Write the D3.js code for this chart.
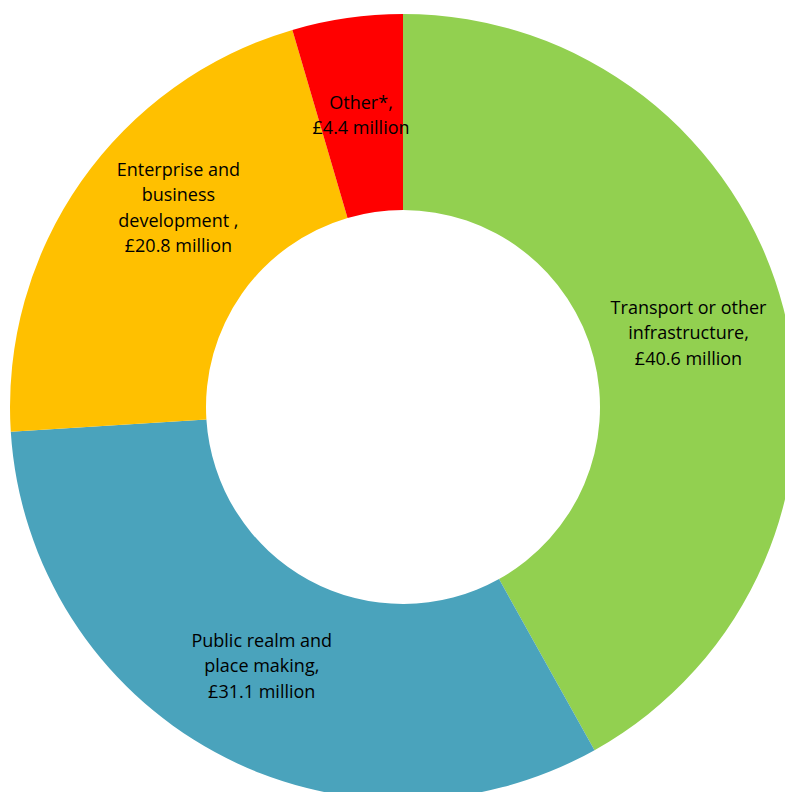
<!DOCTYPE html>
<html>
<head>
<meta charset="utf-8">
<script src="https://cdn.jsdelivr.net/npm/d3@7"></script>
<style>
  html, body { margin: 0; padding: 0; background: #fff; }
  svg { display: block; }
</style>
</head>
<body>
<svg id="chart" width="785" height="792"></svg>
<script>
const categories = ['Transport or other infrastructure', 'Public realm and place making', 'Enterprise and business development', 'Other*']
const values = [40.6, 31.1, 20.8, 4.4]
// label lines as shown on the chart
const labelLines = [
  ['Transport or other', 'infrastructure,', '£40.6 million'],
  ['Public realm and', 'place making,', '£31.1 million'],
  ['Enterprise and', 'business', 'development ,', '£20.8 million'],
  ['Other*,', '£4.4 million']
]
const colors = ['#92d050', '#4aa3bc', '#ffc000', '#ff0000']

const width = 785
const height = 792
const cx = 403
const cy = 407
const outer = 393
const inner = 197

const data = categories.map((c, i) => ({ name: c, value: values[i], lines: labelLines[i], color: colors[i] }))

const pie = d3.pie()
  .value(d => d.value)
  .sort(null)

const arc = d3.arc()
  .innerRadius(inner)
  .outerRadius(outer)

const svg = d3.select('#chart')
  .attr('viewBox', `0 0 ${width} ${height}`)

const g = svg.append('g')
  .attr('transform', `translate(${cx},${cy})`)

const arcs = pie(data)

g.selectAll('path')
  .data(arcs)
  .enter().append('path')
  .attr('d', arc)
  .attr('fill', d => d.data.color)

// small nudge for the enterprise label, as in the original
const nudge = { 'Enterprise and business development': [17, -30] }

const lineH = 25.5

const labels = g.selectAll('text')
  .data(arcs)
  .enter().append('text')
  .attr('text-anchor', 'middle')
  .style('font-family', '"Open Sans", sans-serif')
  .style('font-size', '18px')
  .style('fill', '#000')
  .attr('transform', d => {
    const [x, y] = arc.centroid(d)
    const [dx, dy] = nudge[d.data.name] || [0, 0]
    return `translate(${x + dx},${y + dy})`
  })

labels.selectAll('tspan')
  .data(d => d.data.lines.map((t, i, a) => ({ t, i, n: a.length })))
  .enter().append('tspan')
  .attr('x', 0)
  .attr('y', d => (d.i - (d.n - 1) / 2) * lineH)
  .attr('dy', '0.35em')
  .text(d => d.t)
</script>
</body>
</html>
